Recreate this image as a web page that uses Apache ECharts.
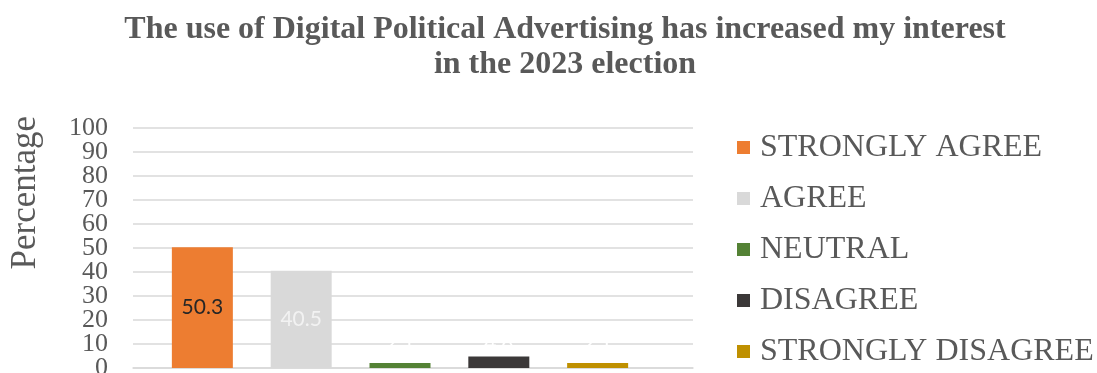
<!DOCTYPE html>
<html>
<head>
<meta charset="utf-8">
<script src="https://cdn.jsdelivr.net/npm/echarts@6/dist/echarts.min.js"></script>
<style>
html,body{margin:0;padding:0;background:#fff;}
#chart{width:1097px;height:373px;}
</style>
</head>
<body>
<div id="chart"></div>
<script>
const titleText = 'The use of Digital Political Advertising has increased my interest\nin the 2023 election';
const yAxisName = 'Percentage';
const responses = ['STRONGLY AGREE', 'AGREE', 'NEUTRAL', 'DISAGREE', 'STRONGLY DISAGREE'];
const percentages = [50.3, 40.5, 2.1, 4.8, 2.1];
const colors = ['#ED7D31', '#D9D9D9', '#548235', '#3B3838', '#BF9000'];
const labelColors = ['#262626', '#F2F2F2', '#FFFFFF', '#FFFFFF', '#FFFFFF'];
const yTicks = [0, 10, 20, 30, 40, 50, 60, 70, 80, 90, 100];

const serif = '"Liberation Serif", "Times New Roman", serif';
const gray = '#595959';
const yMin = yTicks[0];
const yMax = yTicks[yTicks.length - 1];
const yStep = yTicks[1] - yTicks[0];

const series = responses.map((name, i) => ({
  name: name,
  type: 'bar',
  xAxisIndex: 0,
  yAxisIndex: 0,
  barWidth: 61,
  barGap: '62%',
  data: [percentages[i]],
  itemStyle: { color: colors[i] },
  label: {
    show: true,
    position: percentages[i] > 10 ? 'inside' : 'insideBottom',
    distance: 14,
    color: labelColors[i],
    fontFamily: 'Lato, "Open Sans", sans-serif',
    fontSize: 21,
    formatter: p => p.value.toFixed(1)
  }
}));

const labelStyle = { fontFamily: serif, fontSize: 26, color: gray, margin: 25 };

const chart = echarts.init(document.getElementById('chart'), null, { renderer: 'canvas' });
chart.setOption({
  animation: false,
  backgroundColor: '#ffffff',
  title: {
    text: titleText,
    left: 560,
    top: 7,
    textAlign: 'center',
    textStyle: {
      fontFamily: serif,
      fontWeight: 'bold',
      fontSize: 32,
      lineHeight: 35,
      color: gray
    }
  },
  legend: {
    orient: 'vertical',
    left: 737,
    top: 131,
    padding: 0,
    itemWidth: 13,
    itemHeight: 13,
    itemGap: 18,
    icon: 'rect',
    data: responses,
    textStyle: {
      fontFamily: serif,
      fontSize: 32,
      lineHeight: 33,
      color: gray,
      padding: [0, 0, 0, 5]
    }
  },
  graphic: [{
    type: 'text',
    left: 8,
    top: 116,
    rotation: Math.PI / 2,
    style: {
      text: yAxisName,
      font: '35px ' + serif,
      fill: gray
    }
  }],
  grid: [
    { left: 133, top: 128, width: 534, bottom: 5, outerBoundsMode: 'none', containLabel: false },
    { left: 133, top: 128, width: 560, bottom: 5, outerBoundsMode: 'none', containLabel: false }
  ],
  xAxis: [
    { type: 'category', gridIndex: 0, data: [''], axisLine: { show: false }, axisTick: { show: false }, axisLabel: { show: false } },
    { type: 'category', gridIndex: 1, data: [''], axisLine: { show: true, lineStyle: { color: '#D9D9D9', width: 1.5 } }, axisTick: { show: false }, axisLabel: { show: false } }
  ],
  yAxis: [
    { type: 'value', gridIndex: 0, min: yMin, max: yMax, interval: yStep, show: false, splitLine: { show: false } },
    {
      type: 'value', gridIndex: 1, position: 'left', offset: 0, min: yMin, max: yMax, interval: yStep,
      axisLine: { show: false }, axisTick: { show: false },
      axisLabel: Object.assign({
        showMinLabel: true, showMaxLabel: true, hideOverlap: false,
        formatter: v => (v === yMin || v === yMax) ? '' : String(v)
      }, labelStyle),
      splitLine: { lineStyle: { color: '#D9D9D9', width: 1.5 } }
    },
    {
      type: 'value', gridIndex: 1, position: 'left', offset: 0, min: yMin, max: yMax, interval: yMax - yMin,
      axisLine: { show: false }, axisTick: { show: false },
      axisLabel: Object.assign({ showMinLabel: true, showMaxLabel: true, hideOverlap: false }, labelStyle),
      splitLine: { show: false }
    }
  ],
  series: series
});
</script>
</body>
</html>
